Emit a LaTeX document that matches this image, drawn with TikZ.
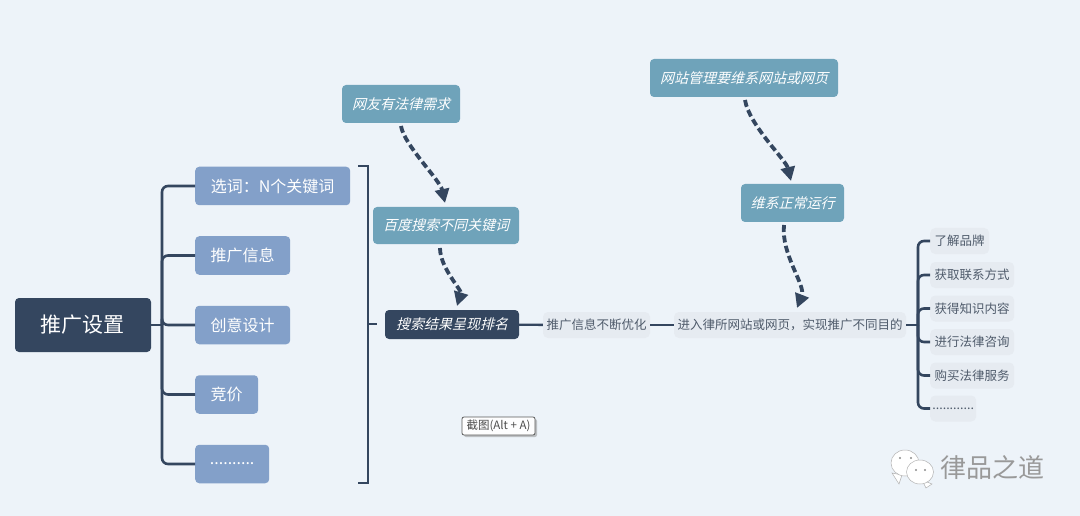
\documentclass[tikz,border=0pt]{standalone}
\usepackage{fontspec}
\usepackage{xcolor}
\usepackage{tikz}
\usetikzlibrary{positioning,arrows.meta,shadows}
\setmainfont{Noto Sans CJK SC}
\newfontfamily\slantfont[FakeSlant=0.25]{Noto Sans CJK SC}
\newcommand{\dotrun}{..........}
\newcommand{\dotrunlong}{............}
\definecolor{bgcol}{HTML}{EDF3F9}
\definecolor{darkcol}{HTML}{34465F}
\definecolor{bluecol}{HTML}{83A0C9}
\definecolor{tealcol}{HTML}{6FA3BA}
\definecolor{palecol}{HTML}{E6EBF1}
\definecolor{inkcol}{HTML}{4F5B6B}
\tikzset{
  boxbase/.style={rounded corners=4pt,inner sep=0pt,align=center},
  rootbox/.style={boxbase,fill=darkcol,text=white,font=\fontsize{21}{24}\selectfont,minimum width=136pt,minimum height=54pt},
  childbox/.style={boxbase,fill=bluecol,text=white,font=\fontsize{16}{19}\selectfont,minimum height=38.5pt},
  tealbox/.style={boxbase,fill=tealcol,text=white,font=\fontsize{14}{18}\slantfont,minimum height=38pt},
  darkbox/.style={boxbase,fill=darkcol,text=white,font=\fontsize{14}{18}\slantfont,minimum height=29pt},
  palebox/.style={boxbase,rounded corners=5pt,fill=palecol,text=inkcol,font=\fontsize{12.5}{15}\selectfont,minimum height=26pt},
  branch/.style={draw=darkcol,line width=2.6pt,rounded corners=6pt},
  flowline/.style={draw=darkcol,line width=2.4pt},
  jump/.style={draw=darkcol,line width=3.8pt,dash pattern=on 7pt off 3.5pt,-{Triangle[length=14pt,width=14pt]}},
}
\begin{document}
\begin{tikzpicture}[x=1pt,y=-1pt]
  \fill[bgcol] (0,0) rectangle (1080,516);
  \useasboundingbox (0,0) rectangle (1080,516);
  % left tree
  \node[rootbox] (root) at (83,325) {推广设置};
  \coordinate (lefttrunk) at (162,325);
  \draw[branch] (root.east) -- (lefttrunk);
  \foreach \i/\t/\w/\y in {1/选词：N个关键词/155/186,2/推广信息/95/255.5,3/创意设计/95/325,4/竞价/63/394.5,5/\dotrun/74/464} {
    \node[childbox,minimum width=\w pt,anchor=west] (child\i) at (195,\y) {\t};
    \draw[branch] (lefttrunk) |- (child\i.west);
  }
  % bracket and its tick
  \coordinate (brtop) at (358,166);
  \coordinate (brbot) at (358,483);
  \coordinate (brmid) at (368,324);
  \coordinate (brtick) at (377,324);
  \draw[darkcol,line width=1.6pt] (brtop) -- (368,166) -- (368,483) -- (brbot);
  \draw[darkcol,line width=1.6pt] (brmid) -- (brtick);
  % middle column
  \node[tealbox,minimum width=118pt] (need) at (401,104) {网友有法律需求};
  \node[tealbox,minimum width=146pt,minimum height=37pt] (baidu) at (446,225.5) {百度搜索不同关键词};
  \node[darkbox,minimum width=134pt] (rank) at (452,324.5) {搜索结果呈现排名};
  \node[palebox,minimum width=107pt] (tune) at (596.5,325) {推广信息不断优化};
  \node[palebox,minimum width=232pt] (enter) at (790,325) {进入律所网站或网页，实现推广不同目的};
  \node[tealbox,minimum width=188pt] (manage) at (744,78) {网站管理要维系网站或网页};
  \node[tealbox,minimum width=103pt] (keep) at (792.5,203) {维系正常运行};
  \draw[flowline] (rank) -- (tune);
  \draw[flowline] (tune) -- (enter);
  % dashed jumps
  \coordinate (j1a) at (401,126);
  \coordinate (j1b) at (445,203);
  \coordinate (j2a) at (440,248);
  \coordinate (j2b) at (457,306);
  \coordinate (j3a) at (745,100);
  \coordinate (j3b) at (791,181);
  \coordinate (j4a) at (784,225);
  \coordinate (j4b) at (797,308);
  \draw[jump] (j1a) .. controls (404,145) and (440,180) .. (j1b);
  \draw[jump] (j2a) .. controls (440,268) and (462,290) .. (j2b);
  \draw[jump] (j3a) .. controls (749,125) and (786,160) .. (j3b);
  \draw[jump] (j4a) .. controls (781,255) and (806,285) .. (j4b);
  % right leaves
  \coordinate (righttrunk) at (918,325);
  \draw[branch] (enter.east) -- (righttrunk);
  \foreach \i/\t/\w/\y in {1/了解品牌/59/241,2/获取联系方式/84/275,3/获得知识内容/84/308.5,4/进行法律咨询/84/342,5/购买法律服务/84/375.5,6/\dotrunlong/46/408.5} {
    \node[palebox,minimum width=\w pt,anchor=west] (leaf\i) at (930,\y) {\t};
    \draw[branch] (righttrunk) |- (leaf\i.west);
  }
  % tooltip
  \node[draw=black!65,line width=0.8pt,rounded corners=2pt,fill=white!92!palecol,text=black!70,
    font=\fontsize{11.5}{12}\selectfont,minimum width=73pt,minimum height=18pt,inner sep=0pt,
    drop shadow={shadow xshift=2pt,shadow yshift=-2pt,fill=black!45}] (tip) at (498.5,426) {截图(Alt + A)};
  % watermark
  \filldraw[draw=black!30,fill=white,line width=0.5pt] (892,473) -- (899,484) -- (902,475) -- cycle;
  \filldraw[draw=black!30,fill=white,line width=0.5pt] (905,463) ellipse (14pt and 13pt);
  \filldraw[draw=black!30,fill=white,line width=0.5pt] (932,484) -- (926,488) -- (922,480) -- cycle;
  \filldraw[draw=black!30,fill=white,line width=0.5pt] (920,472) ellipse (13.5pt and 12pt);
  \foreach \x/\y in {900/458,911/458,916/470,925/470} \fill[black!45] (\x,\y) circle (1.2pt);
  \node[text=black!40,font=\fontsize{26}{28}\selectfont,inner sep=0pt] (mark) at (992.5,468) {律品之道};
\end{tikzpicture}
\end{document}
